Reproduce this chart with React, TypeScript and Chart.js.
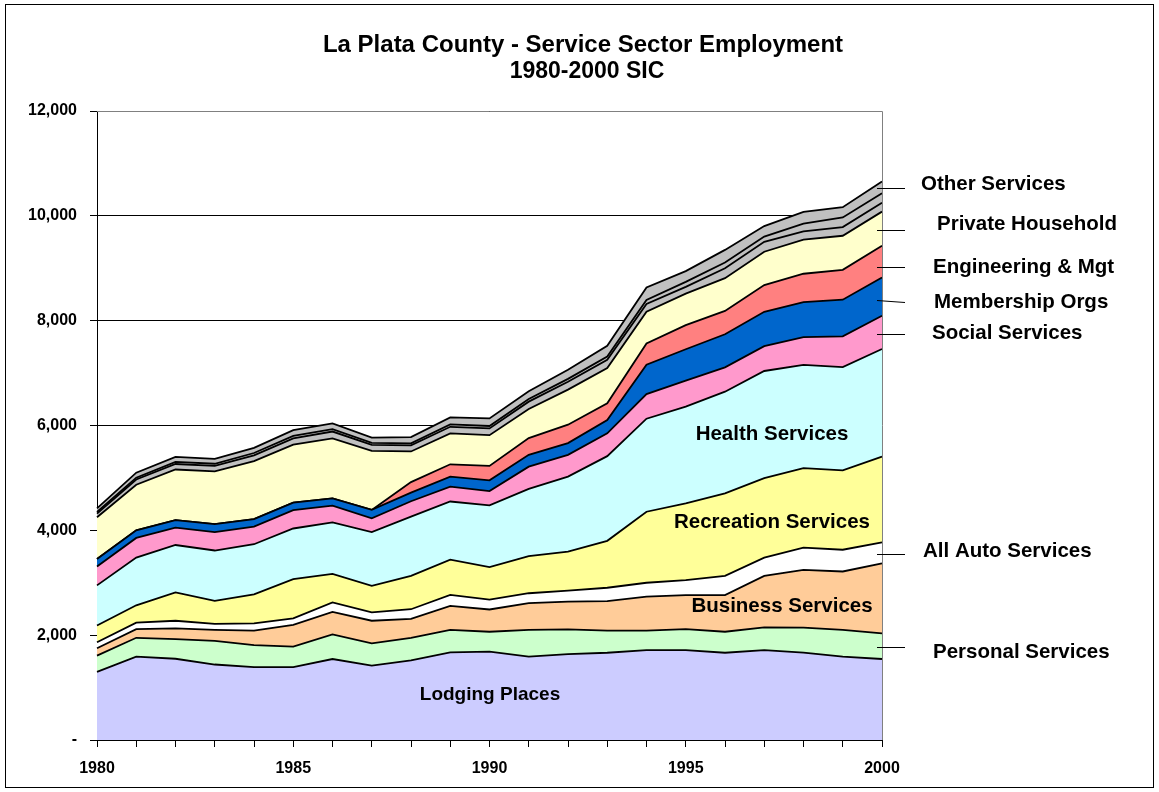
import React, { useEffect, useRef } from 'react';
import { Chart, registerables } from 'chart.js';

Chart.register(...registerables);

const years = ['1980','1981','1982','1983','1984','1985','1986','1987','1988','1989','1990','1991','1992','1993','1994','1995','1996','1997','1998','1999','2000'];

const lodging = [1300,1590,1550,1440,1390,1390,1545,1420,1520,1670,1685,1590,1640,1665,1715,1715,1665,1715,1665,1590,1545];
const personal = [310,360,375,450,420,390,470,425,430,430,380,510,470,420,370,400,400,435,480,510,490];
const business = [140,165,205,210,275,415,430,430,360,460,425,510,530,565,650,650,700,980,1100,1115,1335];
const autoServices = [115,125,145,115,140,125,180,160,185,210,190,190,210,255,265,285,365,350,425,415,400];
const recreation = [320,330,540,440,555,750,545,505,635,670,620,710,745,895,1355,1465,1575,1515,1515,1515,1635];
const health = [765,910,905,960,955,965,980,1025,1130,1110,1175,1280,1430,1615,1775,1845,1940,2045,1970,1970,2055];
const social = [360,375,330,350,335,350,320,265,295,285,275,425,415,435,470,495,465,475,530,585,635];
const membership = [145,145,145,155,145,145,140,160,165,190,205,225,225,255,560,600,630,655,670,700,730];
const engineering = [0,0,0,0,0,0,0,0,200,235,275,320,350,320,405,460,445,510,540,570,605];
const privateHousehold = [795,870,965,1005,1105,1105,1145,1125,585,590,585,555,670,670,605,600,625,635,650,650,650];
const legal = [70,100,105,105,110,120,130,115,115,125,130,140,150,160,150,130,190,190,160,165,170];
const educational = [30,35,40,40,45,45,45,40,40,45,45,50,55,60,75,95,110,100,145,185,180];
const otherServices = [70,95,95,95,100,110,110,100,120,135,145,150,175,205,240,205,240,200,225,195,225];

const yTicks = [0, 2000, 4000, 6000, 8000, 10000, 12000];
const titleLines = ['La Plata County - Service Sector Employment', '1980-2000 SIC'];

const FONT = '"Liberation Sans", Arial, Helvetica, sans-serif';

const series = [
  { label: 'Lodging Places', data: lodging, color: '#CCCCFF' },
  { label: 'Personal Services', data: personal, color: '#CCFFCC' },
  { label: 'Business Services', data: business, color: '#FFCC99' },
  { label: 'All Auto Services', data: autoServices, color: '#FFFFFF' },
  { label: 'Recreation Services', data: recreation, color: '#FFFF99' },
  { label: 'Health Services', data: health, color: '#CCFFFF' },
  { label: 'Social Services', data: social, color: '#FF99CC' },
  { label: 'Membership Orgs', data: membership, color: '#0066CC' },
  { label: 'Engineering & Mgt', data: engineering, color: '#FF8080' },
  { label: 'Private Household', data: privateHousehold, color: '#FFFFCC' },
  { label: 'Legal Services', data: legal, color: '#C0C0C0' },
  { label: 'Educational Services', data: educational, color: '#C0C0C0' },
  { label: 'Other Services', data: otherServices, color: '#C0C0C0' },
];

const innerLabels = [
  { text: 'Lodging Places', x: 490, y: 695, size: 19 },
  { text: 'Business Services', x: 782, y: 606, size: 20.5 },
  { text: 'Recreation Services', x: 772, y: 522, size: 20.5 },
  { text: 'Health Services', x: 772, y: 434, size: 20.5 },
];

const sideLabels = [
  { text: 'Other Services', tx: 921, ty: 184, y1: 188, y2: 188 },
  { text: 'Private Household', tx: 937, ty: 224, y1: 230, y2: 230 },
  { text: 'Engineering & Mgt', tx: 933, ty: 267, y1: 267, y2: 267 },
  { text: 'Membership Orgs', tx: 934, ty: 302, y1: 300, y2: 302 },
  { text: 'Social Services', tx: 932, ty: 333, y1: 334, y2: 334 },
  { text: 'All Auto Services', tx: 923, ty: 551, y1: 554, y2: 554 },
  { text: 'Personal Services', tx: 933, ty: 652, y1: 647, y2: 647 },
];

const decorPlugin = {
  id: 'decor',
  afterDraw(chart: any) {
    const ctx = chart.ctx;
    const { left, right, top, bottom } = chart.chartArea;
    ctx.save();
    ctx.strokeStyle = '#000';
    ctx.lineWidth = 1;
    ctx.strokeRect(5.5, 4.5, 1148, 783);
    ctx.strokeStyle = '#808080';
    ctx.beginPath();
    ctx.moveTo(left, top + 0.5);
    ctx.lineTo(right + 0.5, top + 0.5);
    ctx.lineTo(right + 0.5, bottom);
    ctx.stroke();
    ctx.fillStyle = '#000';
    ctx.textAlign = 'center';
    ctx.textBaseline = 'middle';
    ctx.font = `bold 24px ${FONT}`;
    ctx.fillText(titleLines[0], 583, 45);
    ctx.font = `bold 23px ${FONT}`;
    ctx.fillText(titleLines[1], 587, 72);
    innerLabels.forEach((l) => {
      ctx.font = `bold ${l.size}px ${FONT}`;
      ctx.fillText(l.text, l.x, l.y);
    });
    ctx.textAlign = 'left';
    ctx.font = `bold 20.5px ${FONT}`;
    ctx.strokeStyle = '#000';
    ctx.lineWidth = 1;
    sideLabels.forEach((l) => {
      ctx.beginPath();
      ctx.moveTo(877, l.y1 + 0.5);
      ctx.lineTo(905, l.y2 + 0.5);
      ctx.stroke();
      ctx.fillText(l.text, l.tx, l.ty);
    });
    ctx.restore();
  },
};

export default function App() {
  const canvasRef = useRef<HTMLCanvasElement | null>(null);

  useEffect(() => {
    const canvas = canvasRef.current;
    if (!canvas) return;
    const chart = new Chart(canvas, {
      type: 'line',
      data: {
        labels: years,
        datasets: series.map((s, i) => ({
          label: s.label,
          data: s.data,
          backgroundColor: s.color,
          borderColor: '#000000',
          borderWidth: 1.8,
          pointRadius: 0,
          pointHoverRadius: 0,
          tension: 0,
          fill: i === 0 ? 'origin' : '-1',
        })),
      },
      options: {
        responsive: false,
        animation: false,
        events: [],
        layout: { padding: { left: 0, top: 111, right: 277, bottom: 0 } },
        plugins: {
          legend: { display: false },
          title: { display: false },
          tooltip: { enabled: false },
        },
        scales: {
          x: {
            type: 'category',
            offset: false,
            grid: {
              display: true,
              drawOnChartArea: false,
              drawTicks: true,
              tickLength: 7,
              color: '#000',
            },
            border: { display: true, color: '#000', width: 1 },
            ticks: {
              autoSkip: false,
              maxRotation: 0,
              minRotation: 0,
              padding: 12,
              color: '#000',
              font: { family: FONT, size: 16, weight: 'bold' },
              callback: (_v: any, idx: number) => (Number(years[idx]) % 5 === 0 ? years[idx] : ''),
            },
            afterFit: (scale: any) => { scale.height = 52; },
          },
          y: {
            stacked: true,
            min: 0,
            max: 12000,
            afterBuildTicks: (scale: any) => { scale.ticks = yTicks.map((v) => ({ value: v })); },
            grid: {
              display: true,
              drawOnChartArea: true,
              drawTicks: true,
              tickLength: 7,
              color: '#000',
              lineWidth: 1,
            },
            border: { display: true, color: '#000', width: 1 },
            ticks: {
              padding: 13,
              color: '#000',
              font: { family: FONT, size: 16, weight: 'bold' },
              callback: (v: any) => (Number(v) === 0 ? '-' : Number(v).toLocaleString('en-US')),
            },
            afterFit: (scale: any) => { scale.width = 97; },
          },
        },
      },
      plugins: [decorPlugin],
    });
    return () => chart.destroy();
  }, []);

  return (
    <div style={{ position: 'fixed', left: 0, top: 0, width: 1159, height: 792, background: '#fff' }}>
      <canvas ref={canvasRef} width={1159} height={792} style={{ display: 'block' }} />
    </div>
  );
}
